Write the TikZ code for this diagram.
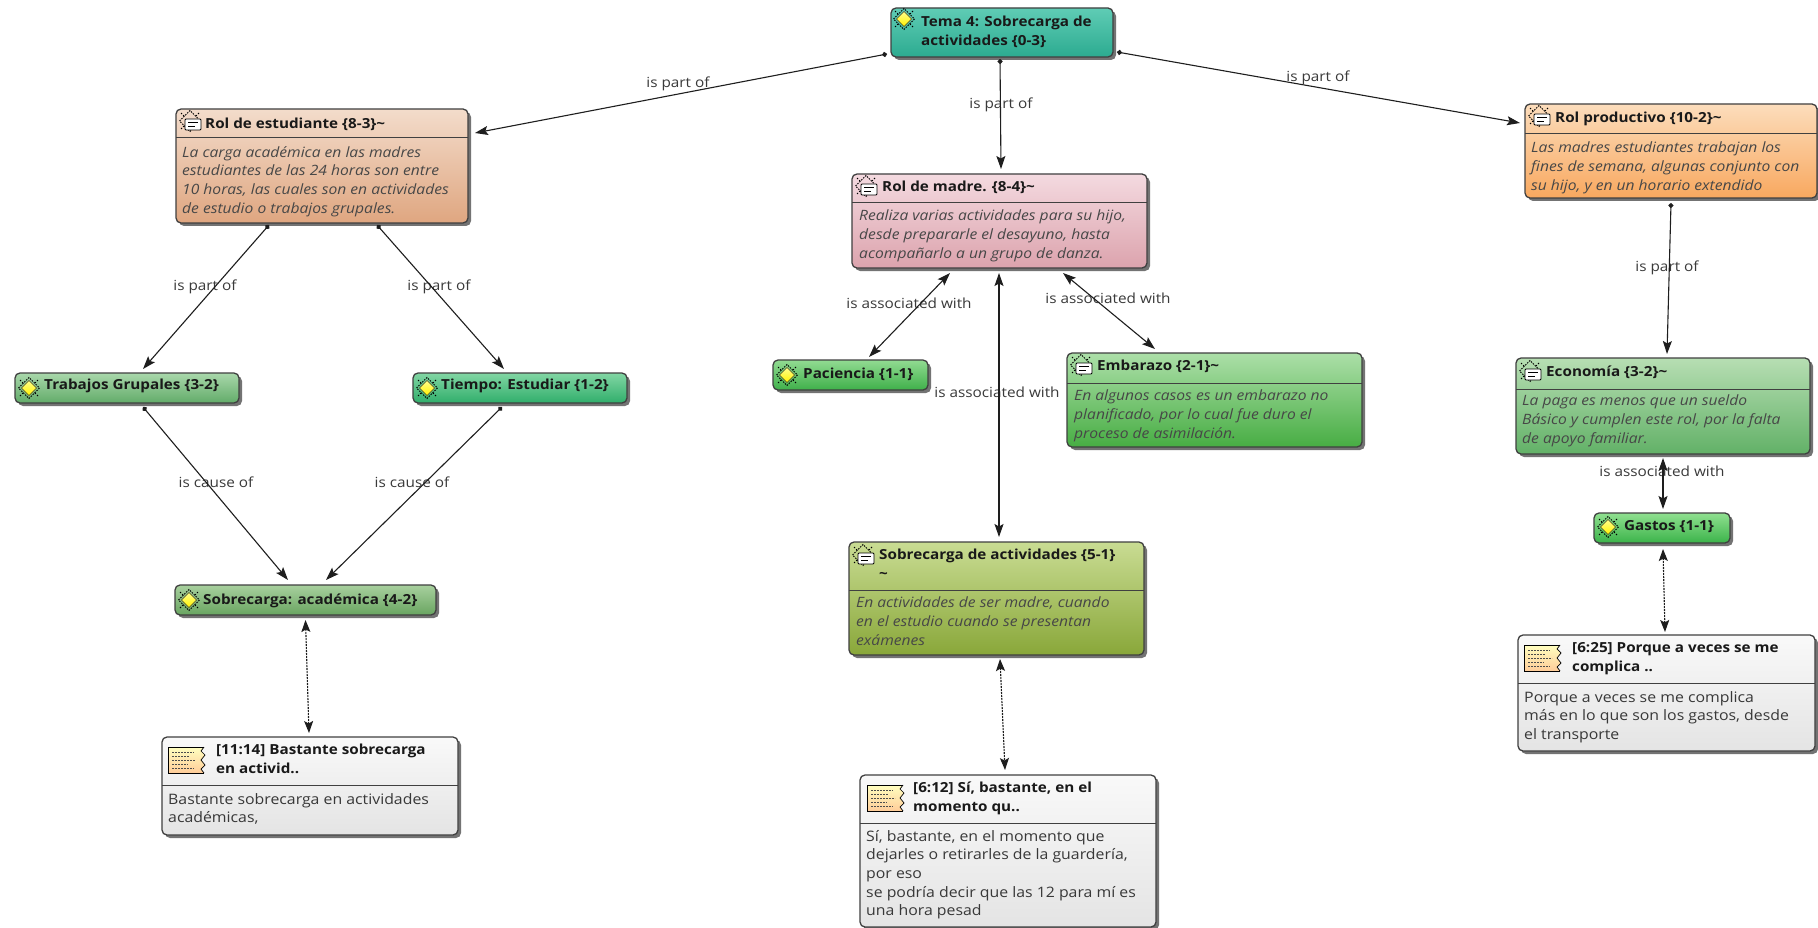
\documentclass[tikz,border=0pt]{standalone}
\usepackage{fontspec}
\setmainfont[FakeStretch=1.1]{Open Sans}
\usetikzlibrary{calc,arrows.meta,shadows,shapes.geometric}
\definecolor{edgecol}{HTML}{1E1E1E}
\definecolor{labelcol}{HTML}{3A3A3A}
\tikzset{
  cardbox/.style={draw=black!75!white,line width=1.3pt,rounded corners=5pt,outer sep=0pt,inner sep=0pt,
    general shadow={shadow xshift=3pt,shadow yshift=-3pt,fill=black,opacity=0.55}},
  titletext/.style={anchor=north west,inner sep=0pt,align=left,yshift=-4.5pt,text=black!90,font=\fontsize{13.85}{19}\selectfont\bfseries},
  bodyitalic/.style={anchor=north west,inner sep=0pt,align=left,yshift=-4pt,text=black!72,font=\fontsize{14.2}{18.8}\selectfont\itshape},
  bodyplain/.style={anchor=north west,inner sep=0pt,align=left,yshift=-4pt,text=black!78,font=\fontsize{14.4}{18.6}\selectfont},
  edgelabel/.style={inner sep=0pt,text=labelcol,font=\fontsize{13.93}{16}\selectfont},
  divider/.style={draw=black!75!white,line width=1pt},
  linkline/.style={draw=edgecol,line width=1.1pt},
  dotarrow/.style={linkline,{Circle[length=5pt]}-{Stealth[length=13pt,width=9pt,inset=2.5pt]}},
  bothways/.style={linkline,{Stealth[length=13pt,width=9pt,inset=2.5pt]}-{Stealth[length=13pt,width=9pt,inset=2.5pt]}},
  weaklink/.style={draw=edgecol,line width=1.1pt,dash pattern=on 2pt off 1pt,{Stealth[length=12pt,width=9pt,inset=2.5pt]}-{Stealth[length=12pt,width=9pt,inset=2.5pt]}},
}
% name, x1,y1,x2,y2, top colour, bottom colour
\newcommand{\cardbox}[7]{%
  \pgfmathsetmacro{\cardcx}{(#2+#4)/2}\pgfmathsetmacro{\cardcy}{(#3+#5)/2}%
  \pgfmathsetmacro{\cardw}{#4-#2}\pgfmathsetmacro{\cardh}{#5-#3}%
  \definecolor{cardtop}{HTML}{#6}\definecolor{cardbot}{HTML}{#7}%
  \node[cardbox,minimum width=\cardw pt,minimum height=\cardh pt,top color=cardtop,bottom color=cardbot] (#1) at (\cardcx,\cardcy) {};}
\newcommand{\sparkle}[1]{%
  \begin{scope}[shift={(#1)}]
    \draw[black,line width=0.9pt,dash pattern=on 1.5pt off 1.2pt] (-10.5,0) -- (0,-10.5) -- (10.5,0) -- (0,10.5) -- cycle;
    \draw[black,line width=0.8pt,dash pattern=on 1.5pt off 1.5pt] (-9,-8) -- (-5,-4) (9,-8) -- (5,-4) (-9,8) -- (-5,4) (9,8) -- (5,4);
  \end{scope}}
\newcommand{\codeicon}[1]{%
  \sparkle{#1}%
  \begin{scope}[shift={(#1)}]
    \fill[draw=black!45!olive,line width=0.6pt,top color=yellow!45,bottom color=yellow!90!orange] (-7.5,0) -- (0,-7.5) -- (7.5,0) -- (0,7.5) -- cycle;
  \end{scope}}
\newcommand{\memoicon}[1]{%
  \sparkle{#1}%
  \begin{scope}[shift={(#1)}]
    \fill[white,draw=black,line width=0.9pt,rounded corners=1pt] (-5,-2) rectangle (11,9);
    \draw[black,line width=0.9pt] (-2,1.5) -- (8,1.5) (-2,5) -- (5,5);
  \end{scope}}
\newcommand{\quoteicon}[1]{%
  \begin{scope}[shift={(#1)}]
    \path[top color=yellow!25!white,bottom color=orange!40!white] (0,0) -- (36,0) -- (33,4) -- (37,8) -- (33,13) -- (37,18) -- (33,22) -- (36,26) -- (0,26) -- cycle;
    \draw[black,line width=1pt] (36,0) -- (0,0) -- (0,26) -- (36,26);
    \draw[black,line width=0.7pt] (36,0) -- (33,4) -- (37,8) -- (33,13) -- (37,18) -- (33,22) -- (36,26);
    \draw[black!70,line width=0.8pt,dash pattern=on 2pt off 1pt] (4,5) -- (26,5) (4,9) -- (22,9) (4,13) -- (28,13) (4,17) -- (20,17) (4,21) -- (26,21);
  \end{scope}}
\begin{document}
\begin{tikzpicture}[x=1pt,y=-1pt]
\useasboundingbox[fill=white] (0,0) rectangle (1818,928);

% ---------- boxes
\cardbox{tema}{891}{8}{1113}{57}{5FCCB5}{2CAB90}
\cardbox{est}{176}{109}{468}{223}{F3DCCB}{DFA680}
\cardbox{prod}{1525}{104}{1817}{198}{FCDDBC}{F8A85F}
\cardbox{madre}{852}{174}{1147}{268}{F4DAE0}{DCA3AD}
\cardbox{trab}{15}{373}{239}{403}{A9D8AB}{62AB69}
\cardbox{tiempo}{413}{373}{627}{403}{82D6A4}{30AE6B}
\cardbox{pac}{773}{360}{928}{390}{92DB92}{3FB04A}
\cardbox{emb}{1067}{353}{1362}{447}{ACDFA8}{47AD43}
\cardbox{econ}{1516}{358}{1810}{454}{B7DEB3}{62B167}
\cardbox{gastos}{1594}{513}{1730}{543}{90E090}{3BB34A}
\cardbox{sobac}{175}{585}{436}{615}{A8D09E}{69A561}
\cardbox{sobact}{849}{542}{1144}{655}{C9DC93}{89A739}
\cardbox{qa}{162}{737}{458}{835}{F9F9F9}{E4E4E4}
\cardbox{qb}{860}{775}{1156}{927}{F9F9F9}{E4E4E4}
\cardbox{qc}{1518}{635}{1815}{751}{F9F9F9}{E4E4E4}

% ---------- dividers
\draw[divider] ($(est.north west)+(0,29)$) -- ($(est.north east)+(0,29)$);
\draw[divider] ($(prod.north west)+(0,30)$) -- ($(prod.north east)+(0,30)$);
\draw[divider] ($(madre.north west)+(0,29)$) -- ($(madre.north east)+(0,29)$);
\draw[divider] ($(emb.north west)+(0,30)$) -- ($(emb.north east)+(0,30)$);
\draw[divider] ($(econ.north west)+(0,31)$) -- ($(econ.north east)+(0,31)$);
\draw[divider] ($(sobact.north west)+(0,48)$) -- ($(sobact.north east)+(0,48)$);
\draw[divider] ($(qa.north west)+(0,48)$) -- ($(qa.north east)+(0,48)$);
\draw[divider] ($(qb.north west)+(0,48)$) -- ($(qb.north east)+(0,48)$);
\draw[divider] ($(qc.north west)+(0,48)$) -- ($(qc.north east)+(0,48)$);

% ---------- icons
\codeicon{904,19}
\memoicon{190,121}
\memoicon{1539,116}
\memoicon{866,186}
\codeicon{29,388}
\codeicon{427,388}
\codeicon{787,375}
\memoicon{1081,365}
\memoicon{1530,371}
\codeicon{1608,527}
\codeicon{189,600}
\memoicon{863,555}
\quoteicon{168,747}
\quoteicon{867,785}
\quoteicon{1524,645}

% ---------- texts
\node[titletext] (tema-t) at (921,11) {Tema 4: Sobrecarga de\\actividades \{0-3\}};
\node[titletext] (est-t) at (205,113) {Rol de estudiante \{8-3\}\textasciitilde};
\node[bodyitalic] (est-b) at (182,142) {La carga académica en las madres\\estudiantes de las 24 horas son entre\\10 horas, las cuales son en actividades\\de estudio o trabajos grupales.};
\node[titletext] (prod-t) at (1555,107) {Rol productivo \{10-2\}\textasciitilde};
\node[bodyitalic] (prod-b) at (1531,138) {Las madres estudiantes trabajan los\\fines de semana, algunas conjunto con\\su hijo, y en un horario extendido};
\node[titletext] (madre-t) at (882,176) {Rol de madre. \{8-4\}\textasciitilde};
\node[bodyitalic] (madre-b) at (859,206) {Realiza varias actividades para su hijo,\\desde prepararle el desayuno, hasta\\acompañarlo a un grupo de danza.};
\node[titletext] (trab-t) at (44,374.5) {Trabajos Grupales \{3-2\}};
\node[titletext] (tiempo-t) at (441,374.5) {Tiempo: Estudiar \{1-2\}};
\node[titletext] (pac-t) at (803,363) {Paciencia \{1-1\}};
\node[titletext] (emb-t) at (1097,355) {Embarazo \{2-1\}\textasciitilde};
\node[bodyitalic] (emb-b) at (1074,386) {En algunos casos es un embarazo no\\planificado, por lo cual fue duro el\\proceso de asimilación.};
\node[titletext] (econ-t) at (1546,361) {Economía \{3-2\}\textasciitilde};
\node[bodyitalic] (econ-b) at (1522,391) {La paga es menos que un sueldo\\Básico y cumplen este rol, por la falta\\de apoyo familiar.};
\node[titletext] (gastos-t) at (1624,516) {Gastos \{1-1\}};
\node[titletext] (sobac-t) at (203,589) {Sobrecarga: académica \{4-2\}};
\node[titletext] (sobact-t) at (879,544) {Sobrecarga de actividades \{5-1\}\\\textasciitilde};
\node[bodyitalic] (sobact-b) at (856,593) {En actividades de ser madre, cuando\\en el estudio cuando se presentan\\exámenes};
\node[titletext] (qa-t) at (216,739) {[11:14] Bastante sobrecarga\\en activid..};
\node[bodyplain] (qa-b) at (168,789) {Bastante sobrecarga en actividades\\académicas,};
\node[titletext] (qb-t) at (913,777) {[6:12] Sí, bastante, en el\\momento qu..};
\node[bodyplain] (qb-b) at (866,826) {Sí, bastante, en el momento que\\dejarles o retirarles de la guardería,\\por eso\\se podría decir que las 12 para mí es\\una hora pesad};
\node[titletext] (qc-t) at (1572,638) {[6:25] Porque a veces se me\\complica ..};
\node[bodyplain] (qc-b) at (1524,687) {Porque a veces se me complica\\más en lo que son los gastos, desde\\el transporte};

% ---------- edge labels
\node[edgelabel] (l1) at (678,84) {is part of};
\node[edgelabel] (l2) at (1001,105) {is part of};
\node[edgelabel] (l3) at (1318,78) {is part of};
\node[edgelabel] (l4) at (205,287) {is part of};
\node[edgelabel] (l5) at (439,287) {is part of};
\node[edgelabel] (l6) at (1667,268) {is part of};
\node[edgelabel] (l7) at (216,482) {is cause of};
\node[edgelabel] (l8) at (412,482) {is cause of};
\node[edgelabel] (l9) at (909,303) {is associated with};
\node[edgelabel] (l10) at (1108,298) {is associated with};
\node[edgelabel] (l11) at (997,392) {is associated with};
\node[edgelabel] (l12) at (1662,471) {is associated with};

% ---------- connectors
\draw[dotarrow] ($(tema.south west)+(-4,-3)$) -- ($(est.north east)+(7,24)$);
\draw[dotarrow] ($(tema.south)+(-2,2)$) -- ($(madre.north)+(1.5,-5)$);
\draw[dotarrow] ($(tema.south east)+(4,-5)$) -- ($(prod.north west)+(-5,19)$);
\draw[dotarrow] ($(est.south)+(-53,2)$) -- ($(trab.north)+(16,-4)$);
\draw[dotarrow] ($(est.south)+(55,2)$) -- ($(tiempo.north)+(-16,-4)$);
\draw[dotarrow] ($(trab.south)+(16,4)$) -- ($(sobac.north)+(-17.5,-5)$);
\draw[dotarrow] ($(tiempo.south)+(-18,4)$) -- ($(sobac.north)+(20.5,-5)$);
\draw[dotarrow] ($(prod.south)+(0,5)$) -- ($(econ.north)+(4,-4)$);
\draw[bothways] ($(madre.south)+(-49.5,5)$) -- ($(pac.north)+(18.5,-3)$);
\draw[bothways] ($(madre.south)+(-0.5,5)$) -- ($(sobact.north)+(2.5,-5)$);
\draw[bothways] ($(madre.south)+(63.5,5)$) -- ($(emb.north)+(-59.5,-4)$);
\draw[bothways] ($(econ.south)+(0,4)$) -- ($(gastos.north)+(1,-4)$);
\draw[weaklink] ($(sobac.south)+(0,5)$) -- ($(qa.north)+(-1,-4)$);
\draw[weaklink] ($(sobact.south)+(3.5,4)$) -- ($(qb.north)+(-3,-5)$);
\draw[weaklink] ($(gastos.south)+(1,6)$) -- ($(qc.north)+(-1.5,-3)$);
\end{tikzpicture}
\end{document}
